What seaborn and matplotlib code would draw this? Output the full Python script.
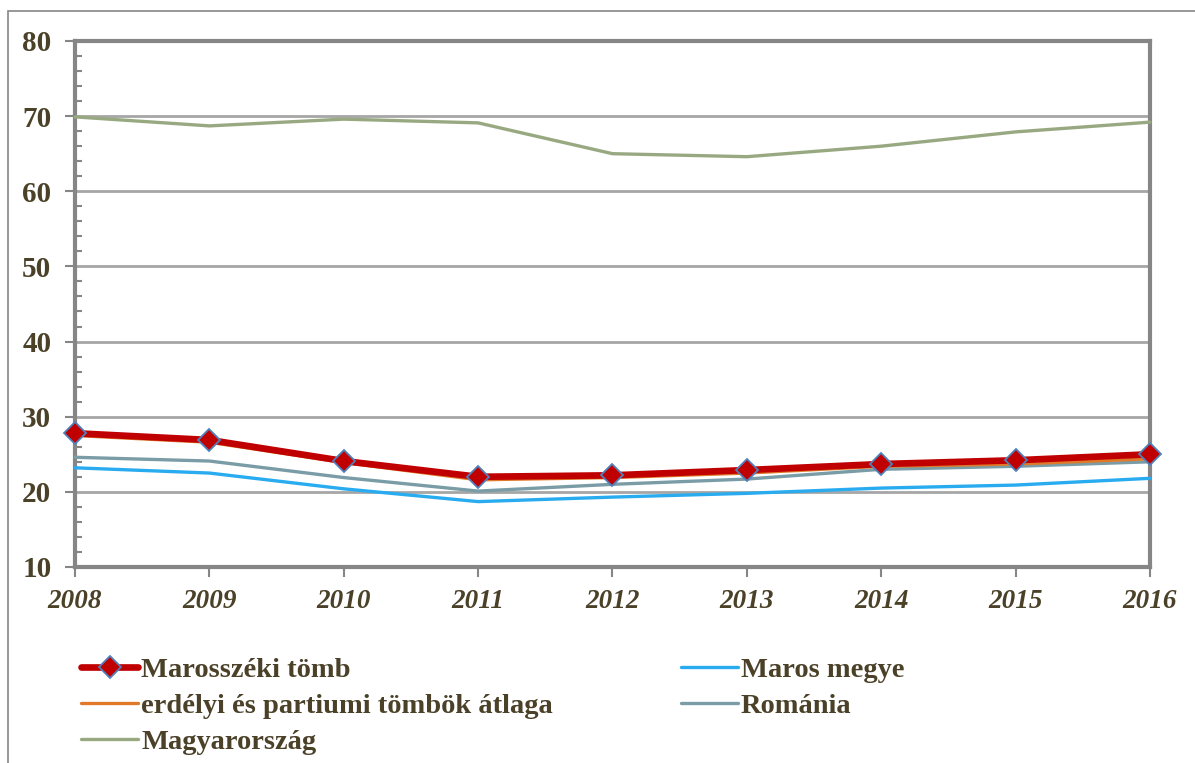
import matplotlib
matplotlib.use("Agg")
import matplotlib.pyplot as plt
import matplotlib.patches as mpatches
from matplotlib.ticker import MultipleLocator
import pandas as pd
import seaborn as sns

# Adatok (leolvasva az ábráról)
years = [2008, 2009, 2010, 2011, 2012, 2013, 2014, 2015, 2016]
marosszeki = [27.8, 26.9, 24.1, 22.0, 22.2, 22.9, 23.7, 24.2, 25.0]
maros_megye = [23.2, 22.5, 20.4, 18.7, 19.3, 19.8, 20.5, 20.9, 21.8]
erdelyi_atlag = [27.5, 26.6, 23.9, 21.6, 21.9, 22.5, 23.4, 23.7, 24.4]
romania = [24.6, 24.1, 21.9, 20.1, 21.0, 21.7, 23.0, 23.4, 24.0]
magyarorszag = [69.9, 68.7, 69.6, 69.1, 65.0, 64.6, 66.0, 67.9, 69.2]

series_names = ["Marosszéki tömb", "Maros megye", "erdélyi és partiumi tömbök átlaga",
                "Románia", "Magyarország"]
series_values = [marosszeki, maros_megye, erdelyi_atlag, romania, magyarorszag]

sns.set_theme(style="white")
plt.rcParams["font.family"] = ["Liberation Serif", "DejaVu Serif"]

TEXT = "#4a4128"
GRID = "#a6a6a6"
SPINE = "#868686"

styles = {
    "Marosszéki tömb": dict(color="#c00000", lw=4.8, marker="D", ms=11,
                            mfc="#c00000", mec="#4f81bd", mew=1.3, z=5),
    "Maros megye": dict(color="#29abf0", lw=2.4, z=3),
    "erdélyi és partiumi tömbök átlaga": dict(color="#e07a2a", lw=2.4, z=4),
    "Románia": dict(color="#7a9ca6", lw=2.4, z=3),
    "Magyarország": dict(color="#98a982", lw=2.4, z=3),
}

df = pd.DataFrame({"Év": years * len(series_names),
                   "Érték": sum(series_values, []),
                   "Sorozat": [n for n in series_names for _ in years]})

fig = plt.figure(figsize=(11.95, 7.63), dpi=100)
ax = fig.add_axes([0.0628, 0.2569, 0.8995, 0.6894])

handles = {}
for name in series_names:
    st = styles[name]
    sub = df[df["Sorozat"] == name]
    kw = dict(color=st["color"], linewidth=st["lw"], zorder=st["z"])
    if "marker" in st:
        kw.update(marker=st["marker"], markersize=st["ms"], markerfacecolor=st["mfc"],
                  markeredgecolor=st["mec"], markeredgewidth=st["mew"])
    sns.lineplot(data=sub, x="Év", y="Érték", ax=ax, label=name, clip_on=False, **kw)
    handles[name] = ax.get_lines()[-1]

ax.set_xlim(2008, 2016)
ax.set_ylim(10, 80)
ax.set_xlabel("")
ax.set_ylabel("")
ax.set_xticks(years)
ax.yaxis.set_major_locator(MultipleLocator(10))
ax.yaxis.set_minor_locator(MultipleLocator(2))
ax.grid(axis="y", which="major", color=GRID, linewidth=2, zorder=0)
ax.set_axisbelow(True)

for sp in ax.spines.values():
    sp.set_color(SPINE)
    sp.set_linewidth(3)
    sp.set_visible(True)

ax.tick_params(axis="y", which="major", direction="out", length=7, width=1.5, color=SPINE,
               labelsize=21, labelcolor=TEXT, pad=10, left=True)
ax.tick_params(axis="y", which="minor", direction="in", length=5, width=1.5, color=SPINE, left=True)
ax.tick_params(axis="x", which="major", direction="out", length=7, width=1.5, color=SPINE,
               labelsize=19.5, labelcolor=TEXT, pad=9, bottom=True)
for lab in ax.get_yticklabels():
    lab.set_fontweight("bold")
for lab in ax.get_xticklabels():
    lab.set_fontweight("bold")
    lab.set_fontstyle("italic")

ax.get_legend().remove()
order = ["Marosszéki tömb", "erdélyi és partiumi tömbök átlaga", "Magyarország",
         "Maros megye", "Románia"]
leg = fig.legend([handles[n] for n in order], order, ncol=2, loc="upper left",
                 bbox_to_anchor=(0.0585, 0.154), frameon=False,
                 prop=dict(family=["Liberation Serif"], weight="bold", size=20.5),
                 handlelength=2.0, handletextpad=0.1, columnspacing=4.5,
                 labelspacing=0.35, borderaxespad=0)
for t in leg.get_texts():
    t.set_color(TEXT)

# keret az ábra körül
fig.add_artist(mpatches.Rectangle((0.0067, -0.05), 1.1, 0.05 + 0.9856, transform=fig.transFigure,
                                  fill=False, edgecolor=SPINE, linewidth=1.2))

fig.savefig("out.png", dpi=100)
